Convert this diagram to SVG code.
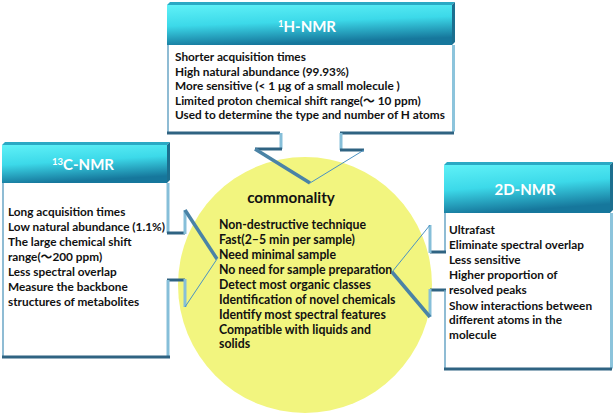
<svg xmlns="http://www.w3.org/2000/svg" width="614" height="414" viewBox="0 0 614 414">
<defs>
<linearGradient id="hdr" x1="0" y1="0" x2="0.25" y2="1">
<stop offset="0" stop-color="#5ff1f7"/>
<stop offset="0.5" stop-color="#3cd9e9"/>
<stop offset="1" stop-color="#16779c"/>
</linearGradient>
<style>
.txt{font-family:Lato,"Noto Sans CJK SC",sans-serif;font-weight:bold;font-size:11.8px;fill:#111}
.ctxt{font-family:Lato,sans-serif;font-weight:bold;font-size:12.3px;fill:#111}
.hd{font-family:Lato,"Noto Sans CJK SC",sans-serif;font-weight:bold;font-size:15px;fill:#fff}
.ttl{font-family:Lato,sans-serif;font-weight:bold;font-size:15.2px;fill:#111}
.body{fill:#fff}
.topface{fill:#2aa9c4}
.hright{fill:#1c6f8f}
.bright{fill:#8cc4dc}
.thin{fill:none;stroke:#6aa6c6;stroke-width:1.5}
.lite{fill:none;stroke:#86bfd9;stroke-width:3}
.dark{fill:none;stroke:#2f6382;stroke-width:3}
.diagthick{fill:none;stroke:#4a83a6;stroke-width:3.5}
.diagthin{fill:none;stroke:#4a92c2;stroke-width:1}
</style>
</defs>
<rect width="614" height="414" fill="#fff"/>
<g id="commonality">
<ellipse cx="305" cy="285" rx="127" ry="128" fill="#f2f57f"/>
<text class="ttl" x="291" y="203" text-anchor="middle">commonality</text>
<text class="ctxt" x="219" y="229">Non-destructive technique</text>
<text class="ctxt" x="219" y="244">Fast(2–5 min per sample)</text>
<text class="ctxt" x="219" y="259">Need minimal sample</text>
<text class="ctxt" x="219" y="274">No need for sample preparation</text>
<text class="ctxt" x="219" y="289">Detect most organic classes</text>
<text class="ctxt" x="219" y="304">Identification of novel chemicals</text>
<text class="ctxt" x="219" y="319">Identify most spectral features</text>
<text class="ctxt" x="219" y="334">Compatible with liquids and</text>
<text class="ctxt" x="219" y="348">solids</text>
</g>
<g id="h-nmr">
<polygon class="topface" points="167,5 170,2 455,2 452,5"/>
<polygon class="hright" points="452,5 455,2 455,42 452,45"/>
<rect x="167" y="5" width="285" height="40" fill="url(#hdr)"/>
<rect class="body" x="167" y="45" width="285" height="87"/>
<polygon class="bright" points="452,45 455,45 455,131 452,134"/>
<line class="thin" x1="168" y1="45" x2="168" y2="133"/>
<text class="hd" x="307" y="32" text-anchor="middle"><tspan font-size="9.5" dy="-5">1</tspan><tspan dy="5">H-NMR</tspan></text>
<text class="txt" x="175" y="61">Shorter acquisition times</text>
<text class="txt" x="175" y="75.5">High natural abundance (99.93%)</text>
<text class="txt" x="175" y="90">More sensitive (&lt; 1 μg of a small molecule )</text>
<text class="txt" x="175" y="104.5">Limited proton chemical shift range(～ 10 ppm)</text>
<text class="txt" x="175" y="119">Used to determine the type and number of H atoms</text>
</g>
<g id="c-nmr">
<polygon class="topface" points="2,145 5,142 170,142 167,145"/>
<polygon class="hright" points="167,145 170,142 170,180 167,183"/>
<rect x="2" y="145" width="165" height="38" fill="url(#hdr)"/>
<rect class="body" x="2" y="183" width="165" height="174"/>
<line class="thin" x1="3" y1="183" x2="3" y2="357"/>
<text class="hd" x="83" y="170" text-anchor="middle"><tspan font-size="9.5" dy="-5">13</tspan><tspan dy="5">C-NMR</tspan></text>
<text class="txt" x="8" y="216">Long acquisition times</text>
<text class="txt" x="8" y="231">Low natural abundance (1.1%)</text>
<text class="txt" x="8" y="246">The large chemical shift</text>
<text class="txt" x="8" y="261">range(～200 ppm)</text>
<text class="txt" x="8" y="276">Less spectral overlap</text>
<text class="txt" x="8" y="291">Measure the backbone</text>
<text class="txt" x="8" y="306">structures of metabolites</text>
</g>
<g id="d2-nmr">
<polygon class="topface" points="444,165 447,162 613,162 610,165"/>
<polygon class="hright" points="610,165 613,162 613,210 610,213"/>
<rect x="444" y="165" width="166" height="48" fill="url(#hdr)"/>
<rect class="body" x="444" y="213" width="166" height="156"/>
<polygon class="bright" points="610,213 613,213 613,368 610,371"/>
<text class="hd" x="525" y="195" text-anchor="middle">2D-NMR</text>
<text class="txt" x="449" y="234">Ultrafast</text>
<text class="txt" x="449" y="249">Eliminate spectral overlap</text>
<text class="txt" x="449" y="264">Less sensitive</text>
<text class="txt" x="449" y="279">Higher proportion of</text>
<text class="txt" x="449" y="294">resolved peaks</text>
<text class="txt" x="449" y="310">Show interactions between</text>
<text class="txt" x="449" y="324">different atoms in the</text>
<text class="txt" x="449" y="339">molecule</text>
</g>
<g id="connectors">
<polyline class="dark" points="167,133 280,133"/>
<polyline class="dark" points="340,133 454,133"/>
<polyline class="lite" points="281,133 281,149"/>
<polyline class="dark" points="282,149 255,149"/>
<polyline class="diagthick" points="255,149 310,183"/>
<polyline class="lite" points="341,133 341,150"/>
<polyline class="dark" points="340,150 364,150"/>
<polyline class="diagthin" points="364,150 310,183"/>

<polyline class="lite" points="168,183 168,233"/>
<polyline class="dark" points="167,233 185,233"/>
<polyline class="lite" points="185,234 185,210"/>
<polyline class="diagthick" points="185,210 217,259"/>
<polyline class="dark" points="167,280 185,280"/>
<polyline class="lite" points="185,279 185,307"/>
<polyline class="diagthin" points="185,307 217,259"/>
<polyline class="lite" points="168,280 168,357"/>
<polyline class="dark" points="2,357 170,357"/>

<polyline class="thin" points="445,213 445,252"/>
<polyline class="dark" points="446,252 430,252"/>
<polyline class="lite" points="430,253 430,225"/>
<polyline class="diagthin" points="430,225 392,272"/>
<polyline class="dark" points="446,290 430,290"/>
<polyline class="lite" points="430,289 430,317"/>
<polyline class="diagthick" points="430,317 392,272"/>
<polyline class="thin" points="445,290 445,369"/>
<polyline class="dark" points="444,369 612,369"/>
</g>
</svg>
